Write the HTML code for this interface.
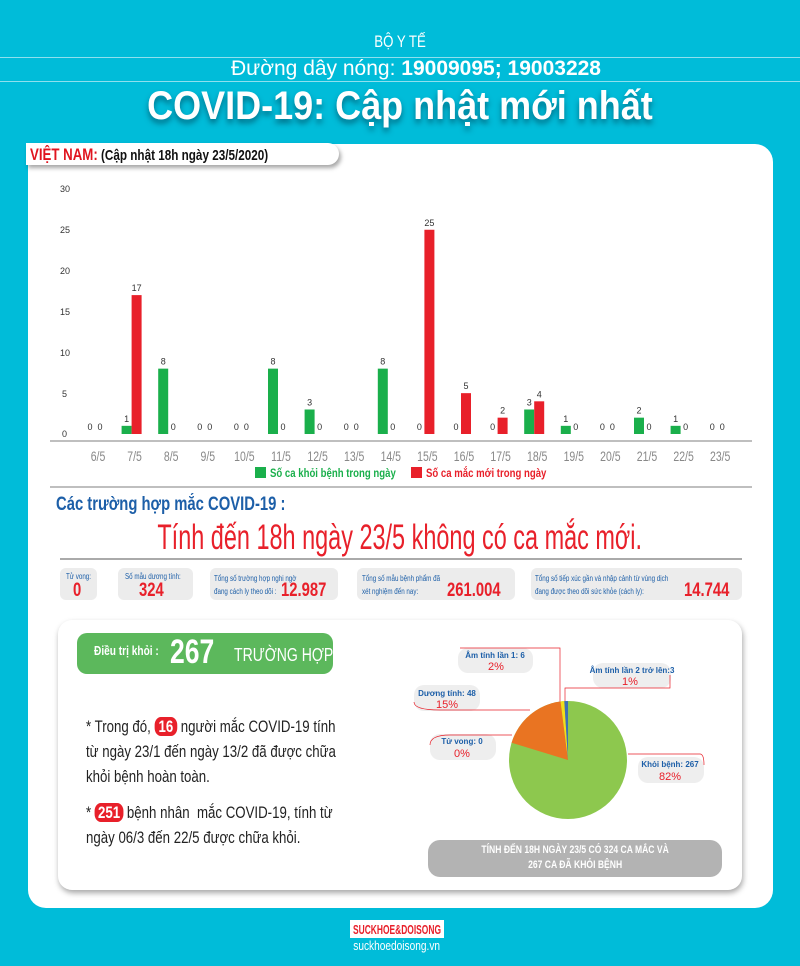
<!DOCTYPE html>
<html><head><meta charset="utf-8"><style>
*{margin:0;padding:0;box-sizing:border-box}
body{width:800px;height:966px;background:#00bcd9;position:relative;overflow:hidden;font-family:"Liberation Sans",sans-serif}
.a{position:absolute}
.c{white-space:nowrap}
.n{display:inline-block;transform:scaleX(.78);transform-origin:left center}
.nc{display:inline-block;transform:scaleX(.78);transform-origin:center center}
.box{background:#ececec;border-radius:6px}
</style></head><body>
<div class="a" style="left:0;top:57px;width:800px;height:1px;background:#8fe0ee"></div>
<div class="a" style="left:0;top:81px;width:800px;height:1px;background:#8fe0ee"></div>
<div class="a c" style="left:0;width:800px;top:32px;text-align:center;color:#fff;font-size:17px"><span class="nc">BỘ Y TẾ</span></div>
<div class="a c" style="left:16px;width:800px;top:57px;text-align:center;color:#fff;font-size:21px"><span class="nc" style="transform:scaleX(1)">Đường dây nóng: <b>19009095; 19003228</b></span></div>
<div class="a c" style="left:0;width:800px;top:84px;text-align:center;color:#fff;font-size:40px;font-weight:bold;text-shadow:0 4px 6px rgba(0,60,80,.6)"><span class="nc" style="transform:scaleX(.9)">COVID-19: Cập nhật mới nhất</span></div>

<div class="a" style="left:28px;top:144px;width:745px;height:764px;background:#fff;border-radius:18px"></div>
<div class="a c" style="left:26px;top:143px;width:313px;height:22px;background:#fff;border-radius:0 12px 12px 0;box-shadow:2px 3px 4px rgba(0,0,0,.35);font-size:15px;padding:2px 0 0 4px;font-weight:bold"><span class="n"><span style="color:#e0141f;font-size:17px">VIỆT NAM:</span> <span style="color:#111">(Cập nhật 18h ngày 23/5/2020)</span></span></div>

<svg class="a" style="left:0;top:0" width="800" height="500" font-family="Liberation Sans,sans-serif">
<g font-size="9" fill="#333">
<text x="60" y="192">30</text><text x="60" y="233">25</text><text x="60" y="274">20</text><text x="60" y="315">15</text><text x="60" y="356">10</text><text x="62" y="397">5</text><text x="62" y="437">0</text>
</g>
<line x1="50" y1="441" x2="752" y2="441" stroke="#aaa" stroke-width="1.5"/>
<line x1="50" y1="487" x2="752" y2="487" stroke="#aaa" stroke-width="1.5"/>
<g id="bars"></g>
<g font-size="14" fill="#888" text-anchor="middle" font-family="Liberation Sans" id="labs"></g>
<rect x="255" y="467" width="11" height="11" fill="#1aaf4b"/>
<text x="270" y="477" font-size="12" fill="#1aaf4b" font-weight="bold" transform="translate(270 0) scale(.8 1) translate(-270 0)">Số ca khỏi bệnh trong ngày</text>
<rect x="411" y="467" width="11" height="11" fill="#e8202a"/>
<text x="426" y="477" font-size="12" fill="#e8202a" font-weight="bold" transform="translate(426 0) scale(.8 1) translate(-426 0)">Số ca mắc mới trong ngày</text>
</svg>
<script>
var g=[0,1,8,0,0,8,3,0,8,0,0,0,3,1,0,2,1,0],r=[0,17,0,0,0,0,0,0,0,25,5,2,4,0,0,0,0,0];
var d=["6/5","7/5","8/5","9/5","10/5","11/5","12/5","13/5","14/5","15/5","16/5","17/5","18/5","19/5","20/5","21/5","22/5","23/5"];
var s="",l="",k=8.17,B=434;
for(var i=0;i<18;i++){var c=98+i*36.6;var gx=c-13,rx=c-3;
if(g[i]>0)s+='<rect x="'+gx+'" y="'+(B-g[i]*k)+'" width="10" height="'+g[i]*k+'" fill="#1aaf4b"/>';
if(r[i]>0)s+='<rect x="'+rx+'" y="'+(B-r[i]*k)+'" width="10" height="'+r[i]*k+'" fill="#e8202a"/>';
s+='<text x="'+(gx+5)+'" y="'+(B-g[i]*k-4)+'" font-size="9" fill="#333" text-anchor="middle">'+g[i]+'</text>';
s+='<text x="'+(rx+5)+'" y="'+(B-r[i]*k-4)+'" font-size="9" fill="#333" text-anchor="middle">'+r[i]+'</text>';
l+='<text x="'+c+'" y="461" transform="translate('+c+' 0) scale(.75 1) translate('+(-c)+' 0)">'+d[i]+'</text>';}
document.getElementById("bars").innerHTML=s;document.getElementById("labs").innerHTML=l;
</script>

<div class="a c" style="left:56px;top:494px;color:#1d5fa8;font-size:19px;font-weight:bold"><span class="n">Các trường hợp mắc COVID-19 :</span></div>
<div class="a c" style="left:0;width:800px;top:518px;text-align:center;color:#e8202a;font-size:35px"><span class="nc" style="transform:scaleX(.67)">Tính đến 18h ngày 23/5 không có ca mắc mới.</span></div>
<div class="a" style="left:60px;top:558px;width:682px;height:2px;background:#aaa"></div>

<div class="a box" style="left:60px;top:568px;width:37px;height:32px"></div>
<div class="a c" style="left:66px;top:572px;font-size:8px;color:#1d5fa8"><span class="n">Tử vong:</span></div>
<div class="a c" style="left:73px;top:580px;font-size:19px;color:#e8202a;font-weight:bold"><span class="n">0</span></div>
<div class="a box" style="left:118px;top:568px;width:75px;height:32px"></div>
<div class="a c" style="left:125px;top:572px;font-size:8px;color:#1d5fa8"><span class="n">Số mẫu dương tính:</span></div>
<div class="a c" style="left:139px;top:580px;font-size:19px;color:#e8202a;font-weight:bold"><span class="n">324</span></div>
<div class="a box" style="left:210px;top:568px;width:128px;height:32px"></div>
<div class="a c" style="left:214px;top:572px;font-size:8px;color:#1d5fa8;line-height:13px"><span class="n">Tổng số trường hợp nghi ngờ<br>đang cách ly theo dõi :</span></div>
<div class="a c" style="left:281px;top:580px;font-size:19px;color:#e8202a;font-weight:bold"><span class="n">12.987</span></div>
<div class="a box" style="left:357px;top:568px;width:158px;height:32px"></div>
<div class="a c" style="left:362px;top:572px;font-size:8px;color:#1d5fa8;line-height:13px"><span class="n">Tổng số mẫu bệnh phẩm đã<br>xét nghiệm đến nay:</span></div>
<div class="a c" style="left:447px;top:580px;font-size:19px;color:#e8202a;font-weight:bold"><span class="n">261.004</span></div>
<div class="a box" style="left:531px;top:568px;width:211px;height:32px"></div>
<div class="a c" style="left:535px;top:572px;font-size:8px;color:#1d5fa8;line-height:13px"><span class="n">Tổng số tiếp xúc gần và nhập cảnh từ vùng dịch<br>đang được theo dõi sức khỏe (cách ly):</span></div>
<div class="a c" style="left:684px;top:580px;font-size:19px;color:#e8202a;font-weight:bold"><span class="n">14.744</span></div>

<div class="a" style="left:58px;top:620px;width:684px;height:270px;background:#fff;border-radius:14px;box-shadow:1px 3px 6px rgba(0,0,0,.35)"></div>
<div class="a" style="left:77px;top:633px;width:256px;height:41px;background:#5cb85c;border-radius:10px"></div>
<div class="a c" style="left:94px;top:643px;color:#fff;font-size:13px;font-weight:bold"><span class="n">Điều trị khỏi :</span></div>
<div class="a c" style="left:170px;top:633px;color:#fff;font-size:34px;font-weight:bold"><span class="n">267</span></div>
<div class="a c" style="left:234px;top:645px;color:#fff;font-size:18px"><span class="n">TRƯỜNG HỢP</span></div>
<div class="a c" style="left:86px;top:714px;font-size:17px;color:#222;line-height:25px"><span class="n">* Trong đó, <span style="background:#e8202a;color:#fff;font-weight:bold;border-radius:8px;padding:0 5px">16</span> người mắc COVID-19 tính<br>từ ngày 23/1 đến ngày 13/2 đã được chữa<br>khỏi bệnh hoàn toàn.</span></div>
<div class="a c" style="left:86px;top:800px;font-size:17px;color:#222;line-height:25px"><span class="n">* <span style="background:#e8202a;color:#fff;font-weight:bold;border-radius:8px;padding:0 4px">251</span> bệnh nhân &nbsp;mắc COVID-19, tính từ<br>ngày 06/3 đến 22/5 được chữa khỏi.</span></div>

<svg class="a" style="left:400px;top:630px" width="340" height="250" font-family="Liberation Sans,sans-serif">
<g fill="#eee"><rect x="58" y="18" width="75" height="25" rx="10"/><rect x="193" y="33" width="78" height="25" rx="10"/><rect x="14" y="55" width="66" height="26" rx="10"/><rect x="30" y="104" width="66" height="26" rx="10"/><rect x="238" y="127" width="66" height="26" rx="10"/></g>
<g fill="none" stroke="#e8202a" stroke-width=".7">
<path d="M60 18H160V72"/><path d="M165 76V58H270V45"/><path d="M14 72Q14 80 40 80H130"/><path d="M30 115Q30 105 50 105H112"/><path d="M228 124H300Q304 124 304 135"/>
</g>
<circle cx="168" cy="130" r="59" fill="#8dc84e"/>
<path d="M168 130L111.6 112.8A59 59 0 0 1 160.6 71.5Z" fill="#e97422"/>
<path d="M168 130L160.6 71.5A59 59 0 0 1 164.3 71.1Z" fill="#f2dd1b"/>
<path d="M168 130L164.3 71.1A59 59 0 0 1 168 71Z" fill="#3d6fb5"/>
<g font-size="8" fill="#1d5fa8" font-weight="bold" text-anchor="middle"><text x="95" y="28">Âm tính lần 1: 6</text><text x="232" y="43">Âm tính lần 2 trở lên:3</text><text x="47" y="66">Dương tính: 48</text><text x="62" y="114">Tử vong: 0</text><text x="270" y="137">Khỏi bệnh: 267</text></g>
<g font-size="11" fill="#e8202a" text-anchor="middle"><text x="96" y="40">2%</text><text x="230" y="55">1%</text><text x="47" y="78">15%</text><text x="62" y="127">0%</text><text x="270" y="150">82%</text></g>
</svg>
<div class="a" style="left:428px;top:840px;width:294px;height:37px;background:#b3b3b3;border-radius:12px"></div>
<div class="a c" style="left:428px;top:843px;width:294px;text-align:center;color:#fff;font-size:11px;font-weight:bold;line-height:15px"><span class="nc">TÍNH ĐẾN 18H NGÀY 23/5 CÓ 324 CA MẮC VÀ<br>267 CA ĐÃ KHỎI BỆNH</span></div>

<svg class="a" style="left:350px;top:920px" width="94" height="18"><rect width="94" height="18" fill="#fff"/><text x="47" y="14" text-anchor="middle" font-family="Liberation Sans" font-weight="bold" font-size="13" fill="#e8202a" textLength="88" lengthAdjust="spacingAndGlyphs">SUCKHOE&amp;DOISONG</text></svg>
<div class="a c" style="left:340px;top:938px;width:114px;text-align:center;color:#fff;font-size:13px"><span class="nc">suckhoedoisong.vn</span></div>
</body></html>
